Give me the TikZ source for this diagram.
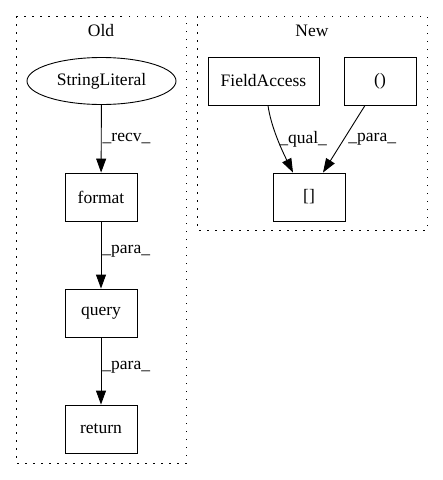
\documentclass[tikz,border=0pt]{standalone}
\usepackage{fontspec}
\setmainfont{Liberation Serif}
\usetikzlibrary{arrows.meta,calc,shapes.geometric}
\begin{document}
\begin{tikzpicture}[x=1pt,y=-1pt,
  every node/.style={font=\fontsize{17.5}{20}\selectfont},
  box/.style={draw,line width=0.9pt,minimum width=72pt,minimum height=48pt,inner sep=0pt},
  oval/.style={draw,line width=0.9pt,ellipse,minimum width=149pt,minimum height=47pt,inner sep=0pt},
  edge/.style={line width=0.9pt,-{Triangle[length=14pt,width=10pt]}},
  lbl/.style={anchor=west,inner sep=1pt},
  cluster/.style={line width=1pt,dash pattern=on 1.5pt off 6.5pt}]
\useasboundingbox (0,0) rectangle (443,480);
\draw[cluster] (16,16) rectangle (186,463);
\draw[cluster] (197,16) rectangle (427,230);
\node (oldt) at (101,31) {Old};
\node (newt) at (312,31) {New};
\node[oval] (sl) at (101.5,81) {StringLiteral};
\node[box] (fmt) at (101,197) {format};
\node[box] (qry) at (101,313) {query};
\node[box] (ret) at (101,429) {return};
\node[box,minimum width=111pt] (fa) at (263.5,81) {FieldAccess};
\node[box] (par) at (380,81) {()};
\node[box] (br) at (309,197) {[]};
\draw[edge] (sl) -- (fmt) node[lbl,pos=0.5] {\_recv\_};
\draw[edge] (fmt) -- (qry) node[lbl,pos=0.45] {\_para\_};
\draw[edge] (qry) -- (ret) node[lbl,pos=0.45] {\_para\_};
\draw[edge] ($(fa.south)+(4.5,0)$) .. controls +(3,22) and +(-10,-20) .. ($(br.north)+(-16,0)$) node[lbl,pos=0.5,xshift=0pt] {\_qual\_};
\draw[edge] ($(par.south)+(-15,0)$) -- ($(br.north)+(14,0)$) node[lbl,pos=0.5,xshift=3pt] {\_para\_};
\end{tikzpicture}
\end{document}
